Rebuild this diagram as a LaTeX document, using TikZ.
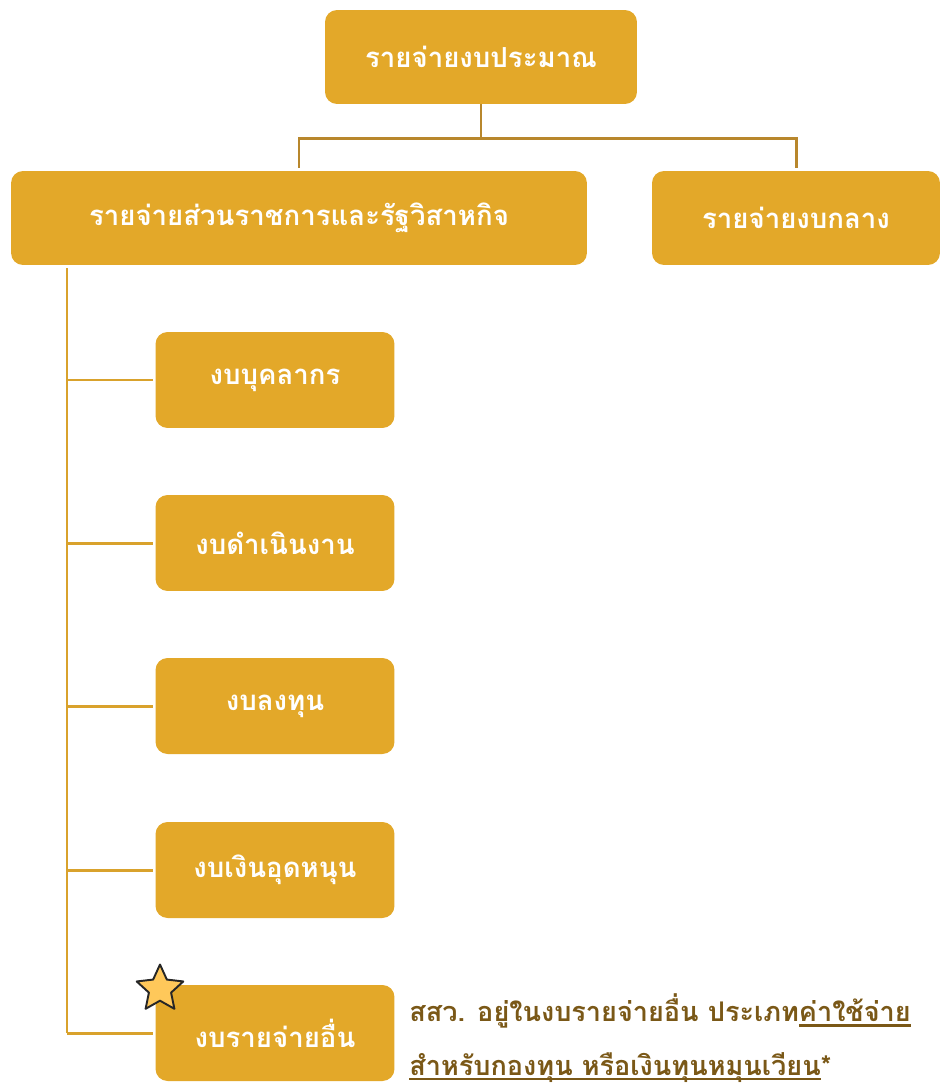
\documentclass[tikz,border=0pt]{standalone}
\usepackage{fontspec}
\newfontfamily\thaifont[Script=Thai]{Loma}
\usepackage{tikz}
\usetikzlibrary{shapes.geometric}
\definecolor{boxgold}{HTML}{E3A829}
\definecolor{linegold}{HTML}{B8872C}
\definecolor{spinegold}{HTML}{D9A22C}
\definecolor{notebrown}{HTML}{7A5817}
\definecolor{stargold}{HTML}{FFC85A}
\newcommand{\thaiul}[1]{\setbox0\hbox{#1}\rlap{\rule[-3pt]{\wd0}{1.5pt}}\box0}

\begin{document}
\begin{tikzpicture}[x=0.02cm, y=-0.02cm,
	box/.style={fill=boxgold, rounded corners=0.24cm, text=white, inner sep=0pt,
		font=\thaifont\bfseries\fontsize{15.7}{19}\selectfont, minimum height=1.88cm},
	sub/.style={box, minimum width=4.78cm, minimum height=1.92cm},
	tie/.style={draw=linegold, line width=1.7pt, shorten >=0.06cm},
	twig/.style={draw=spinegold, line width=1.7pt}]
	\useasboundingbox (0,0) rectangle (942,1085);
	\node[box, minimum width=6.24cm] (0) at (481,57) {รายจ่ายงบประมาณ};
	\node[box, minimum width=11.52cm] (1) at (299,218) {รายจ่ายส่วนราชการและรัฐวิสาหกิจ};
	\node[box, minimum width=5.76cm] (2) at (796,218) {รายจ่ายงบกลาง};
	\node[sub] (3) at (275,380) {งบบุคลากร};
	\node[sub] (4) at (275,543) {งบดำเนินงาน};
	\node[sub] (5) at (275,706) {งบลงทุน};
	\node[sub] (6) at (275,870) {งบเงินอุดหนุน};
	\node[sub] (7) at (275,1033) {งบรายจ่ายอื่น};
	\node[star, star points=5, star point ratio=2.1, minimum size=0.98cm, inner sep=0pt,
		draw=black!85, fill=stargold, line width=1.1pt, line join=round] (s) at (160,989) {};
	\node[anchor=west, inner sep=0pt, align=left, text=notebrown,
		font=\thaifont\bfseries\fontsize{15.4}{30.5}\selectfont] (8) at (409,1038)
		{สสว. อยู่ในงบรายจ่ายอื่น ประเภท\thaiul{ค่าใช้จ่าย}\\
		\thaiul{สำหรับกองทุน หรือเงินทุนหมุนเวียน}*};
	
	\draw[tie] (0.south) -- ++(0,34) -| (1.north);
	\draw[tie] (0.south) -- ++(0,34) -| (2.north);
	
	\coordinate (c) at (67,268);
	\draw[twig] (c) -- (c |- 7.west);
	\foreach \n in {3,...,7}
		\draw[twig, shorten >=0.05cm] (c |- \n.west) -- (\n.west);
\end{tikzpicture}
\end{document}
